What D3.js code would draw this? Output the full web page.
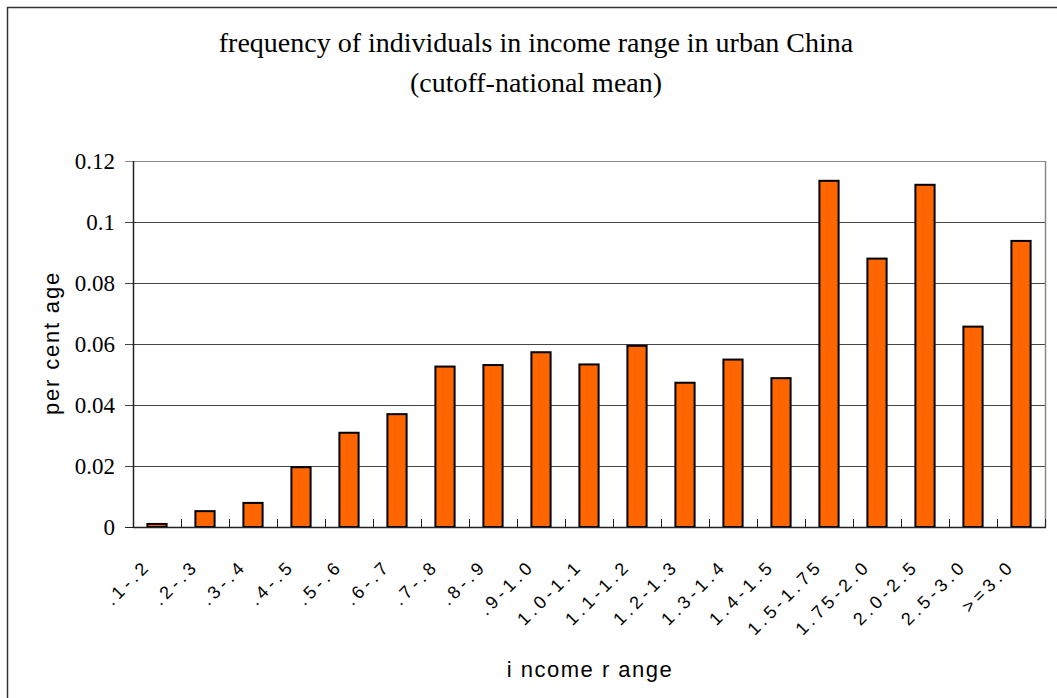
<!DOCTYPE html>
<html>
<head>
<meta charset="utf-8">
<script src="https://cdn.jsdelivr.net/npm/d3@7"></script>
<style>
  body { margin: 0; background: #fff; }
  svg { display: block; }
</style>
</head>
<body>
<div id="chart"></div>
<script>
const categories = [
  '.1-.2', '.2-.3', '.3-.4', '.4-.5', '.5-.6', '.6-.7', '.7-.8', '.8-.9', '.9-1.0',
  '1.0-1.1', '1.1-1.2', '1.2-1.3', '1.3-1.4', '1.4-1.5', '1.5-1.75', '1.75-2.0',
  '2.0-2.5', '2.5-3.0', '>=3.0'
];
const percentages = [
  0.001, 0.0052, 0.0079, 0.0196, 0.0309, 0.037, 0.0526, 0.0531, 0.0573,
  0.0533, 0.0594, 0.0473, 0.0549, 0.0488, 0.1135, 0.088,
  0.1122, 0.0657, 0.0938
];
const yTicks = [0, 0.02, 0.04, 0.06, 0.08, 0.1, 0.12];
const titleLines = ['frequency of individuals in income range in urban China', '(cutoff-national mean)'];

const width = 1057;
const height = 698;
const plot = { left: 133, right: 1045, top: 161, bottom: 527 };

const svg = d3.select('#chart').append('svg').attr('width', width).attr('height', height);
svg.append('rect').attr('width', width).attr('height', height).attr('fill', 'white');

// outer chart frame, runs off the right and bottom edges
svg.append('rect')
  .attr('x', 7.5).attr('y', 7.5)
  .attr('width', width + 20).attr('height', height + 20)
  .attr('fill', 'none').attr('stroke', '#333').attr('stroke-width', 1.5);

const x = d3.scaleBand().domain(categories).range([plot.left, plot.right]).paddingInner(0.6).paddingOuter(0.3);
const xOuter = d3.scaleBand().domain(categories).range([plot.left, plot.right]);
const y = d3.scaleLinear().domain([0, 0.12]).range([plot.bottom, plot.top]);

// gridlines with short outside ticks
svg.append('g')
  .selectAll('line')
  .data(yTicks.filter(d => d > 0))
  .join('line')
  .attr('x1', plot.left - 8).attr('x2', plot.right)
  .attr('y1', d => Math.round(y(d)) + 0.5).attr('y2', d => Math.round(y(d)) + 0.5)
  .attr('stroke', d => (d === 0.12 ? '#888' : '#444')).attr('stroke-width', 1.2);

svg.append('line')
  .attr('x1', plot.right + 0.5).attr('x2', plot.right + 0.5)
  .attr('y1', plot.top).attr('y2', plot.bottom)
  .attr('stroke', '#888').attr('stroke-width', 1.5);

svg.append('line')
  .attr('x1', plot.left - 8).attr('x2', plot.left)
  .attr('y1', plot.bottom + 0.5).attr('y2', plot.bottom + 0.5)
  .attr('stroke', '#222');

// bars
svg.append('g')
  .selectAll('rect')
  .data(percentages)
  .join('rect')
  .attr('x', (d, i) => x(categories[i]))
  .attr('width', x.bandwidth())
  .attr('y', d => y(d))
  .attr('height', d => plot.bottom - y(d))
  .attr('fill', '#ff6600')
  .attr('stroke', '#000')
  .attr('stroke-width', 2);

// axes
svg.append('line')
  .attr('x1', plot.left + 0.5).attr('x2', plot.left + 0.5)
  .attr('y1', plot.top).attr('y2', plot.bottom + 1)
  .attr('stroke', '#222').attr('stroke-width', 1.5);
svg.append('line')
  .attr('x1', plot.left).attr('x2', plot.right + 1)
  .attr('y1', plot.bottom + 0.5).attr('y2', plot.bottom + 0.5)
  .attr('stroke', '#222').attr('stroke-width', 1.5);

svg.append('g')
  .selectAll('line')
  .data(categories.slice(1))
  .join('line')
  .attr('x1', d => Math.round(xOuter(d)) + 0.5).attr('x2', d => Math.round(xOuter(d)) + 0.5)
  .attr('y1', plot.bottom - 8).attr('y2', plot.bottom)
  .attr('stroke', '#222');
svg.append('line')
  .attr('x1', plot.right + 0.5).attr('x2', plot.right + 0.5)
  .attr('y1', plot.bottom - 8).attr('y2', plot.bottom)
  .attr('stroke', '#222');

// y tick labels
svg.append('g')
  .selectAll('text')
  .data(yTicks)
  .join('text')
  .attr('x', 115)
  .attr('y', d => y(d))
  .attr('dy', '0.35em')
  .attr('text-anchor', 'end')
  .attr('font-family', '"Liberation Serif", "Times New Roman", serif')
  .attr('font-size', 23)
  .text(d => (d === 0 ? '0' : String(d)));

// x tick labels, rotated
svg.append('g')
  .selectAll('text')
  .data(categories)
  .join('text')
  .attr('transform', d => `translate(${xOuter(d) + xOuter.bandwidth() / 2 - 5},${plot.bottom + 40}) rotate(-45)`)
  .attr('text-anchor', 'end')
  .attr('font-family', '"Liberation Sans", Arial, sans-serif')
  .attr('font-size', 18)
  .attr('letter-spacing', 4)
  .text(d => d);

// title
svg.append('g')
  .selectAll('text')
  .data(titleLines)
  .join('text')
  .attr('x', 536)
  .attr('y', (d, i) => 52 + i * 40)
  .attr('text-anchor', 'middle')
  .attr('font-family', '"Liberation Serif", "Times New Roman", serif')
  .attr('font-size', 28)
  .text(d => d);

// axis titles
svg.append('text')
  .attr('transform', `translate(59,343) rotate(-90)`)
  .attr('text-anchor', 'middle')
  .attr('font-family', '"Liberation Sans", Arial, sans-serif')
  .attr('font-size', 22)
  .attr('letter-spacing', 1.8)
  .text('per cent age');

svg.append('text')
  .attr('x', 590)
  .attr('y', 677)
  .attr('text-anchor', 'middle')
  .attr('font-family', '"Liberation Sans", Arial, sans-serif')
  .attr('font-size', 22)
  .attr('letter-spacing', 1.5)
  .text('i ncome r ange');
</script>
</body>
</html>
